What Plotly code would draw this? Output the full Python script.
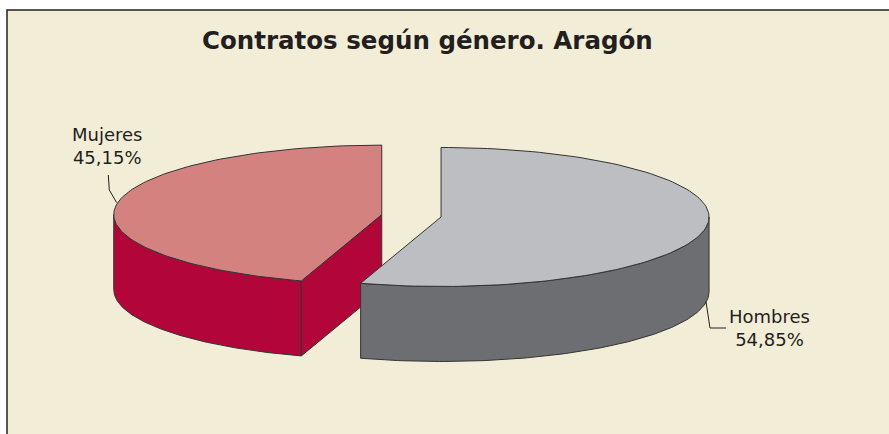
import numpy as np
import plotly.graph_objects as go

# ---- data ----
labels = ["Hombres", "Mujeres"]
values = [54.85, 45.15]
pct_text = ["54,85%", "45,15%"]
title_text = "Contratos según género. Aragón"

# ---- style / geometry ----
top_colors = {"Hombres": "#BDBEC2", "Mujeres": "#D4827F"}
side_colors = {"Hombres": "#6D6E71", "Mujeres": "#B2063A"}
EDGE = "#333333"
BG = "#F2EDD6"
TXT = "#231F20"
W, H = 889, 434
CX, CY = 411.4, 215.8      # pie centre (top face) in canvas units
RX, RY = 268.0, 69.5       # ellipse radii of the tilted disc
DEPTH = 75.0               # thickness
EXPLODE = 30.0             # explosion distance (along major axis units)

fig = go.Figure()


def arc(t0, t1, cx, cy, dz=0.0, n=120):
    t = np.radians(np.linspace(t0, t1, n))
    return cx + RX * np.sin(t), cy - RY * np.cos(t) + dz


def poly(xs, ys, fill):
    fig.add_trace(go.Scatter(
        x=list(xs) + [xs[0]], y=list(ys) + [ys[0]], mode="lines",
        fill="toself", fillcolor=fill, line=dict(color=EDGE, width=1),
        hoverinfo="skip", showlegend=False))


total = sum(values)
slices = []
start = 0.0
for lab, v in zip(labels, values):
    span = 360.0 * v / total
    mid = start + span / 2
    m = np.radians(mid)
    ox = EXPLODE * np.sin(m)
    oy = -EXPLODE * np.cos(m) * RY / RX
    slices.append(dict(lab=lab, t0=start, t1=start + span, cx=CX + ox, cy=CY + oy))
    start += span

# painter's order: back-most slice first
for s in sorted(slices, key=lambda d: d["cy"]):
    t0, t1, cx, cy, lab = s["t0"], s["t1"], s["cx"], s["cy"], s["lab"]
    # outer side wall (front-facing part: 90..270 deg)
    a0, a1 = max(t0, 90.0), min(t1, 270.0)
    if a1 > a0:
        xt, yt = arc(a0, a1, cx, cy)
        xb, yb = arc(a0, a1, cx, cy, DEPTH)
        poly(np.concatenate([xt, xb[::-1]]), np.concatenate([yt, yb[::-1]]), side_colors[lab])
    # radial cut faces that face the viewer
    for ang, phi in ((t0, t0 - 90.0), (t1, t1 + 90.0)):
        if np.cos(np.radians(phi)) < -1e-6:
            ex, ey = arc(ang, ang, cx, cy, n=1)
            poly([cx, ex[0], ex[0], cx], [cy, ey[0], ey[0] + DEPTH, cy + DEPTH], side_colors[lab])
    # top face
    xt, yt = arc(t0, t1, cx, cy)
    poly(np.concatenate([[cx], xt]), np.concatenate([[cy], yt]), top_colors[lab])

# ---- labels with leader lines ----
label_pos = {"Mujeres": (107, 146), "Hombres": (769, 328)}
leaders = {"Mujeres": ([108.3, 109.3, 116.7], [175, 190, 202.7]),
           "Hombres": ([706, 710, 726], [301.7, 328, 328])}
for lab, pct in zip(labels, pct_text):
    lx, ly = leaders[lab]
    fig.add_trace(go.Scatter(x=lx, y=ly, mode="lines", line=dict(color=TXT, width=1),
                             hoverinfo="skip", showlegend=False))
    x, y = label_pos[lab]
    fig.add_annotation(x=x, y=y, text=f"{lab}<br>{pct}", showarrow=False,
                       xanchor="center", yanchor="middle", align="center",
                       font=dict(family="DejaVu Sans", size=18, color=TXT))

fig.add_annotation(x=427, y=40, text=f"<b>{title_text}</b>", showarrow=False,
                   xanchor="center", yanchor="middle",
                   font=dict(family="DejaVu Sans", size=24.5, color=TXT))

# chart frame
fig.add_shape(type="rect", x0=7, y0=10, x1=W + 20, y1=H + 20, xref="x", yref="y",
              fillcolor=BG, line=dict(color=TXT, width=1.5), layer="below")

fig.update_layout(
    width=W, height=H, autosize=False,
    margin=dict(l=0, r=0, t=0, b=0),
    paper_bgcolor="white", plot_bgcolor="white",
    xaxis=dict(range=[0, W], visible=False, fixedrange=True),
    yaxis=dict(range=[H, 0], visible=False, fixedrange=True),
)
fig.write_html("out.html", config={"displayModeBar": False},
               post_script="document.body.style.margin='0';document.body.style.overflow='hidden';")
